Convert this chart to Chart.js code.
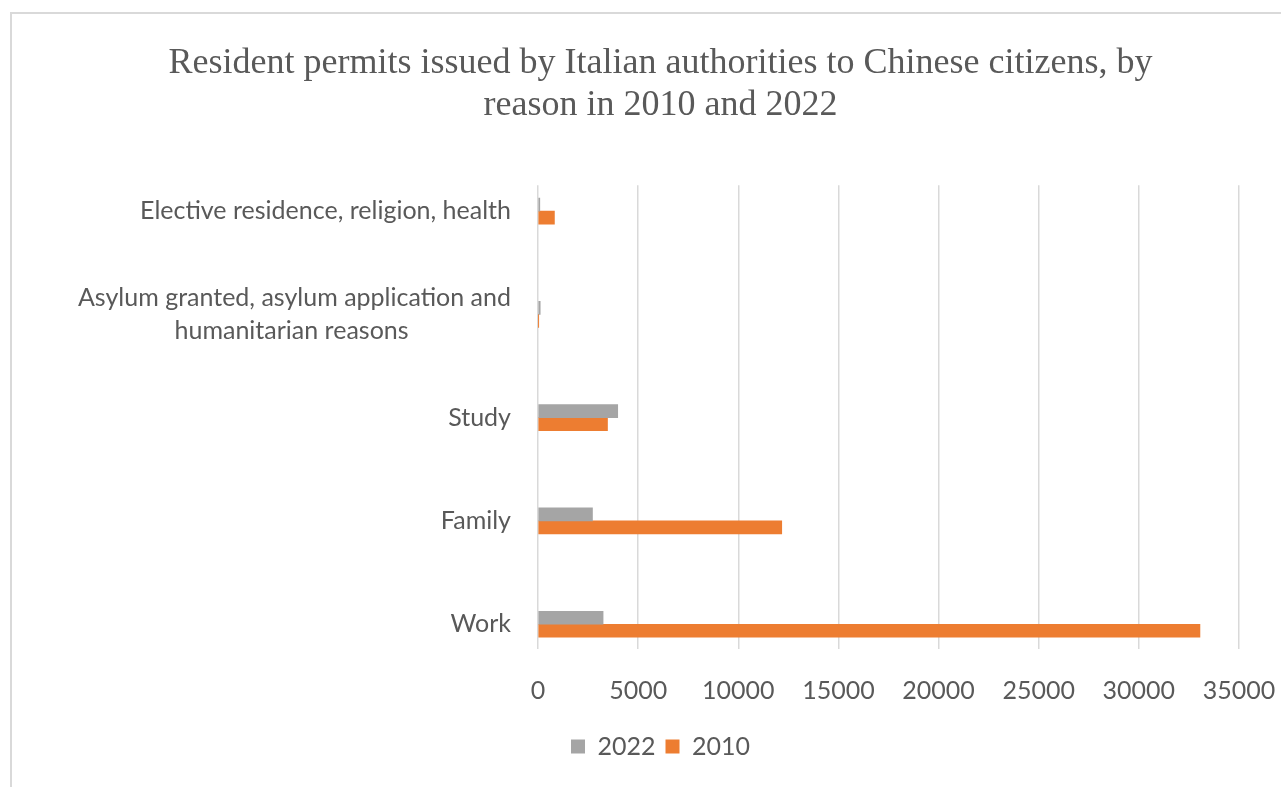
<!DOCTYPE html>
<html>
<head>
<meta charset="utf-8">
<script src="https://cdn.jsdelivr.net/npm/chart.js@4"></script>
<style>
  html, body { margin: 0; padding: 0; background: #fff; overflow: hidden; }
  #frame { position: absolute; left: 10px; top: 12px; width: 1300px; height: 800px; border: 2px solid #d9d9d9; }
  #myChart { position: absolute; left: 0; top: 0; }
</style>
</head>
<body>
<div id="frame"></div>
<canvas id="myChart" width="1281" height="787"></canvas>
<script>
// permits by reason, bottom to top
var reasons = ['Work', 'Family', 'Study',
  ['Asylum granted, asylum application and', 'humanitarian reasons'],
  'Elective residence, religion, health'];
var permits2022 = [3250, 2720, 3980, 110, 90];
var permits2010 = [33050, 12170, 3470, 20, 820];
var xMax = 35000;
var xStep = 5000;

var labelFont = 'Lato';
var labelSize = 25;
var textColor = '#595959';

// pad the short line of a two-line label so both lines sit centred
function centerLines(lines) {
  if (!Array.isArray(lines)) return lines;
  var ctx = document.createElement('canvas').getContext('2d');
  ctx.font = labelSize + 'px ' + labelFont;
  var widest = Math.max.apply(null, lines.map(function(l) { return ctx.measureText(l).width; }));
  var space = ctx.measureText(' ').width;
  return lines.map(function(l) {
    var n = Math.round((widest - ctx.measureText(l).width) / 2 / space);
    return l + ' '.repeat(n);
  });
}
var tickLabels = reasons.map(centerLines);

function points(values) {
  return values.map(function(v, i) { return {x: v, y: i}; });
}

var ctx = document.getElementById('myChart');
var myChart = new Chart(ctx, {
  type: 'bar',
  data: {
    datasets: [{
      label: '2022',
      data: points(permits2022),
      backgroundColor: '#a5a5a5',
    }, {
      label: '2010',
      data: points(permits2010),
      backgroundColor: '#ed7d31',
    }],
  },
  options: {
    indexAxis: 'y',
    responsive: false,
    animation: false,
    barThickness: 13,
    layout: { padding: { left: 40, right: 0, top: 0, bottom: 18 } },
    scales: {
      x: {
        type: 'linear',
        min: 0,
        max: xMax,
        ticks: {
          stepSize: xStep,
          padding: 27,
          color: textColor,
          font: { family: labelFont, size: labelSize },
          callback: function(v) { return String(v); },
        },
        grid: { color: '#d9d9d9', lineWidth: 1.5, drawTicks: false },
        border: { display: false },
        afterFit: function(scale) {
          scale.height = 75;
          scale.paddingRight = 42;
        },
      },
      y: {
        type: 'linear',
        offset: false,
        min: -0.24,
        max: 4.25,
        afterBuildTicks: function(scale) {
          scale.ticks = reasons.map(function(r, i) { return {value: i}; });
        },
        ticks: {
          padding: 27,
          color: textColor,
          font: { family: labelFont, size: labelSize, lineHeight: 1.32 },
          callback: function(v) { return tickLabels[v]; },
        },
        grid: { display: false, drawTicks: false },
        border: { display: false },
        afterFit: function(scale) {
          scale.width = 498;
        },
      },
    },
    plugins: {
      title: {
        display: true,
        text: ['Resident permits issued by Italian authorities to Chinese citizens, by', 'reason in 2010 and 2022'],
        color: textColor,
        font: { family: 'Liberation Serif', size: 36, weight: 'normal', lineHeight: 1.17 },
        padding: { top: 42, bottom: 59 },
      },
      legend: {
        position: 'bottom',
        labels: {
          color: textColor,
          boxWidth: 14,
          boxHeight: 14,
          padding: 10,
          font: { family: labelFont, size: labelSize },
        },
      },
      tooltip: { enabled: false },
    },
  },
});
</script>
</body>
</html>
